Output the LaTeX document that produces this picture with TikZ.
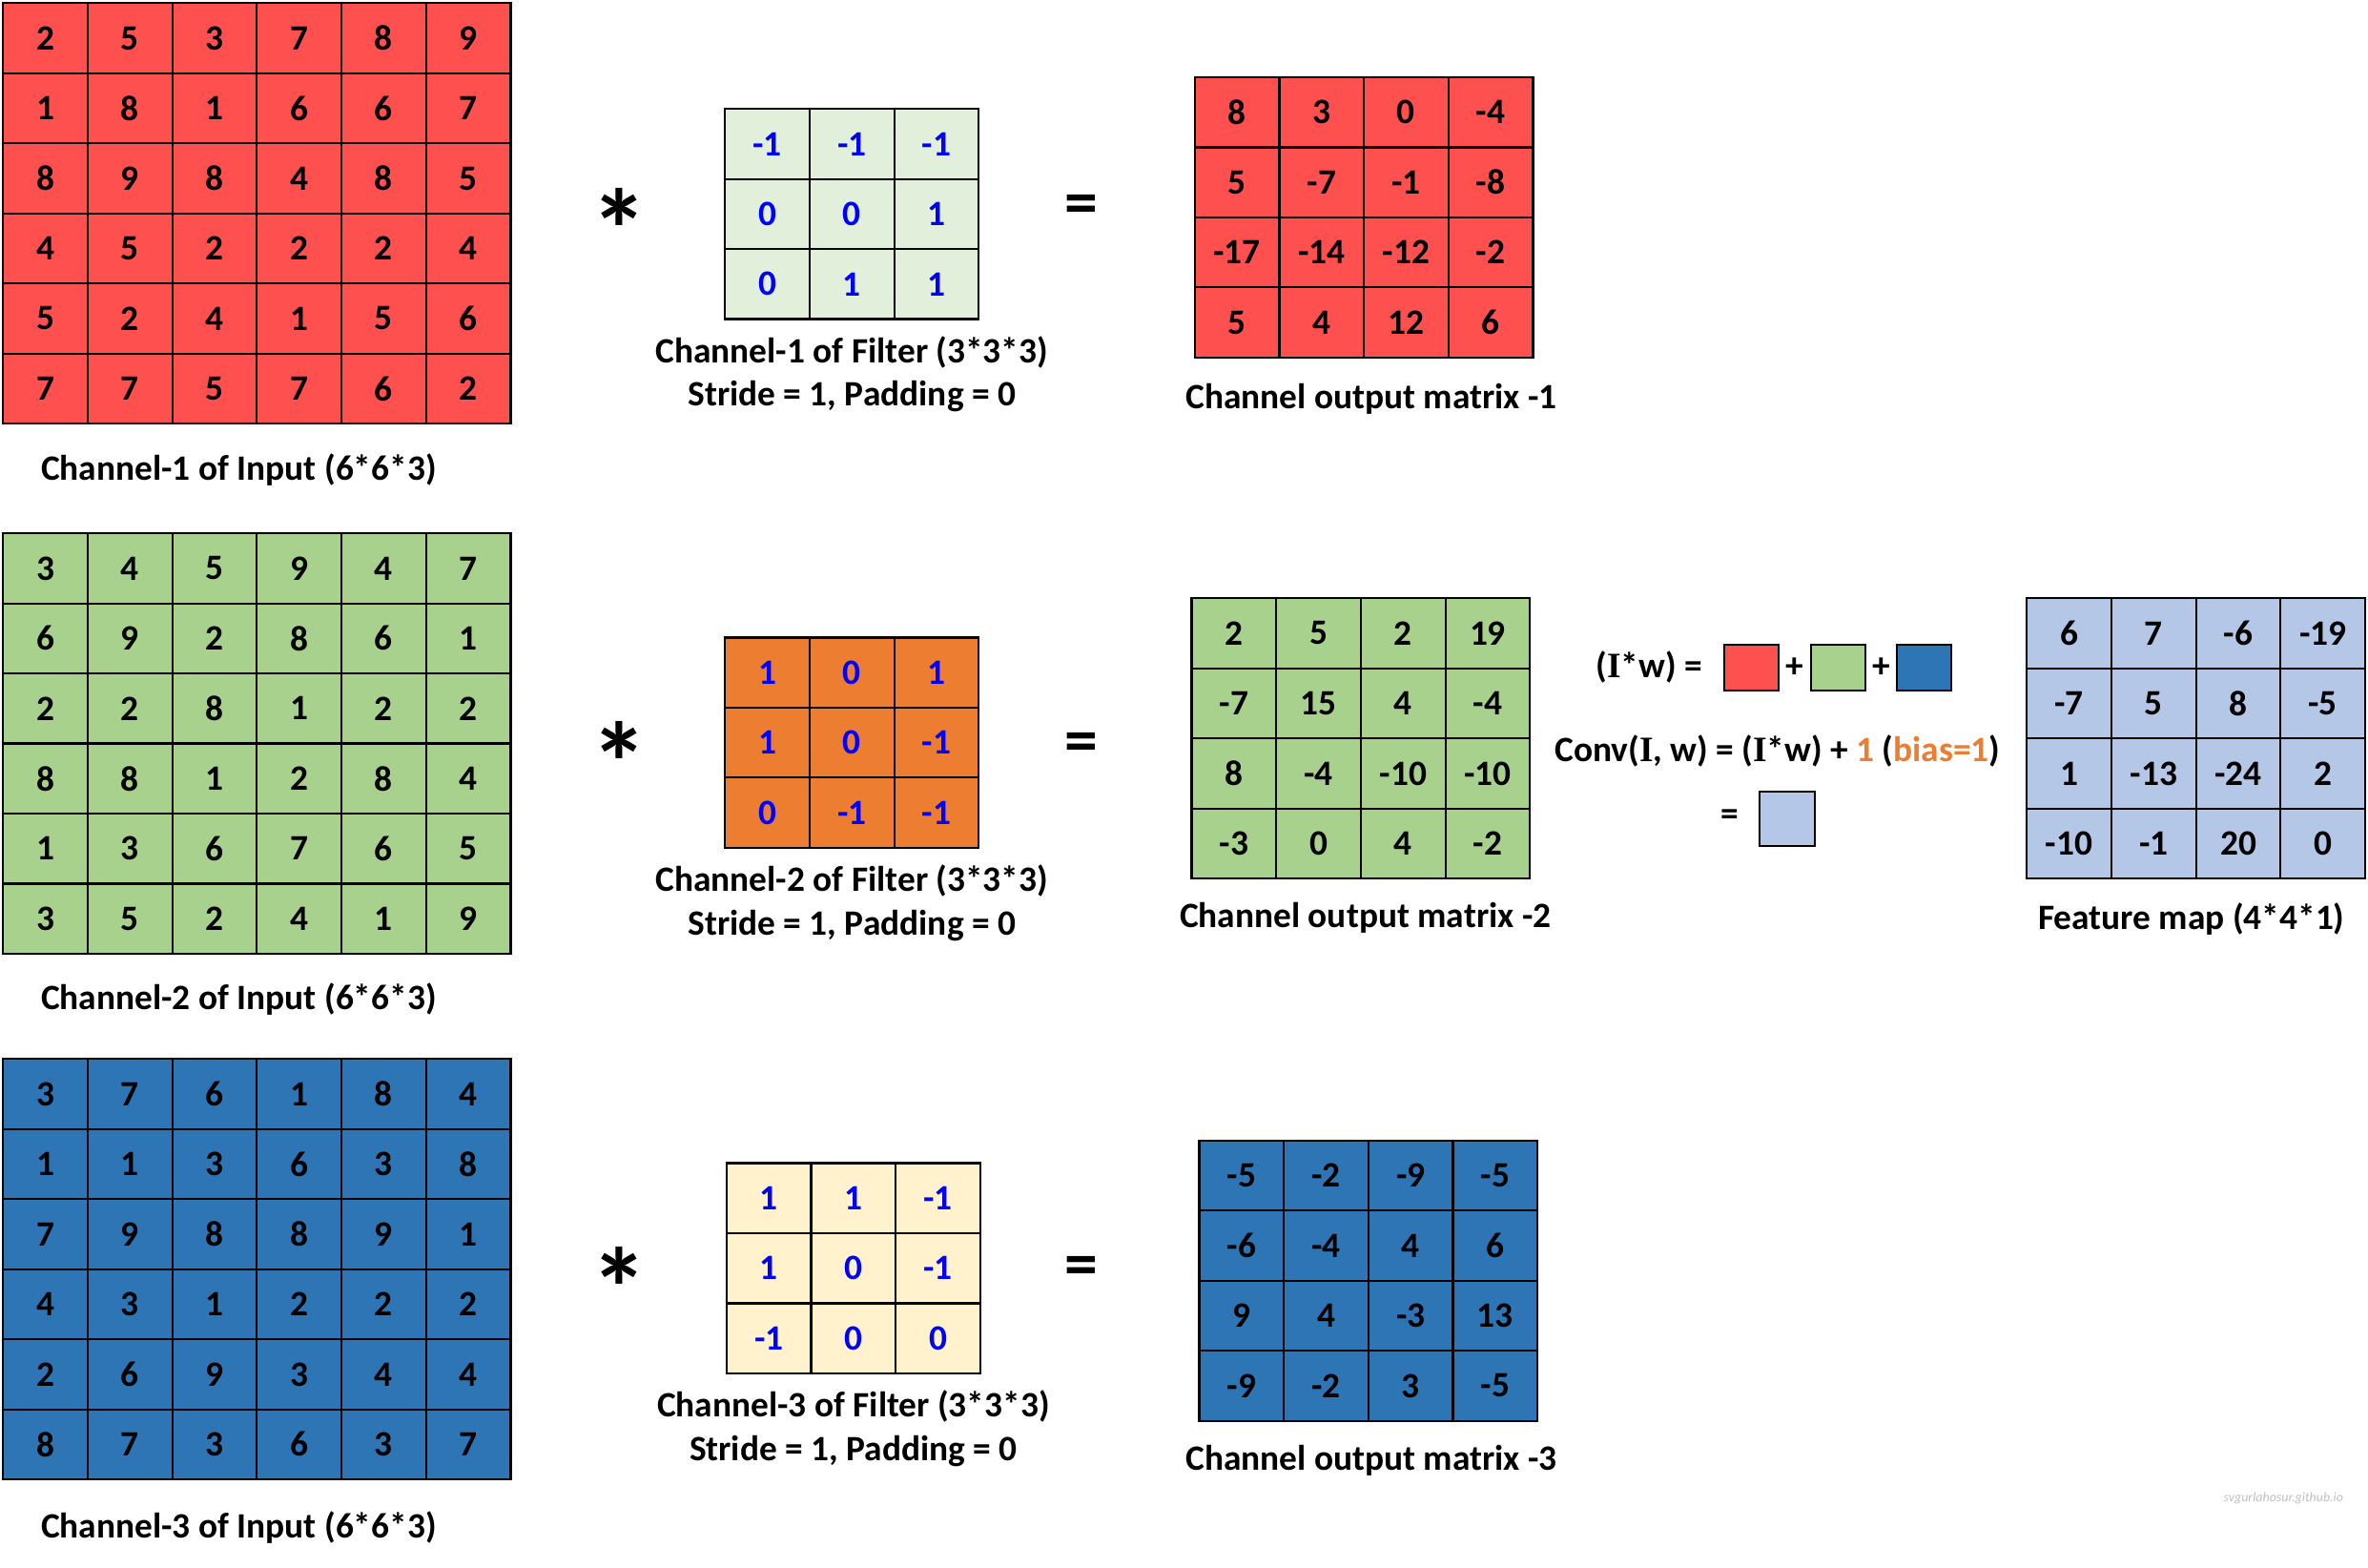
\documentclass[tikz,border=0pt]{standalone}
\usepackage{fontspec}
\setmainfont{Carlito}
\newfontfamily\serifface{Liberation Serif}
\usetikzlibrary{matrix,positioning}

\definecolor{inred}{HTML}{FF5050}
\definecolor{ingreen}{HTML}{A9D18E}
\definecolor{inblue}{HTML}{2E75B6}
\definecolor{kgreen}{HTML}{E2EFDA}
\definecolor{korange}{HTML}{ED7D31}
\definecolor{kcream}{HTML}{FFF2CC}
\definecolor{mapblue}{HTML}{B4C7E7}
\definecolor{wblue}{HTML}{0000FF}
\definecolor{biasorange}{HTML}{ED7D31}
\definecolor{markgray}{HTML}{C0C0C0}

\newcommand{\capI}{{\serifface I}}

\begin{document}
\begin{tikzpicture}[
  x=0.5pt, y=-0.5pt,
  font=\bfseries\fontsize{11.8}{14.5}\selectfont,
  cell/.style={draw, line width=.7pt, minimum width=28pt, minimum height=23.2pt,
               inner sep=0pt, outer sep=0pt, anchor=center},
  grid/.style={matrix of nodes, anchor=north west, inner sep=0pt,
               column sep=-.7pt, row sep=-.7pt, nodes={cell, fill=#1}},
  kernel/.style={grid=#1, nodes={text=wblue}},
  lab/.style={align=center},
  star/.style={font=\bfseries\fontsize{38}{38}\selectfont, inner sep=0pt},
  eq/.style={font=\bfseries\fontsize{22}{22}\selectfont, inner sep=0pt},
  sq/.style={draw, line width=.6pt, inner sep=0pt},
]
\useasboundingbox (0,0) rectangle (1568,1038);

% inputs
\matrix[grid=inred] (in1) at (1,1) {
  2 & 5 & 3 & 7 & 8 & 9 \\
  1 & 8 & 1 & 6 & 6 & 7 \\
  8 & 9 & 8 & 4 & 8 & 5 \\
  4 & 5 & 2 & 2 & 2 & 4 \\
  5 & 2 & 4 & 1 & 5 & 6 \\
  7 & 7 & 5 & 7 & 6 & 2 \\
};
\matrix[grid=ingreen] (in2) at (1,352) {
  3 & 4 & 5 & 9 & 4 & 7 \\
  6 & 9 & 2 & 8 & 6 & 1 \\
  2 & 2 & 8 & 1 & 2 & 2 \\
  8 & 8 & 1 & 2 & 8 & 4 \\
  1 & 3 & 6 & 7 & 6 & 5 \\
  3 & 5 & 2 & 4 & 1 & 9 \\
};
\matrix[grid=inblue] (in3) at (1,700) {
  3 & 7 & 6 & 1 & 8 & 4 \\
  1 & 1 & 3 & 6 & 3 & 8 \\
  7 & 9 & 8 & 8 & 9 & 1 \\
  4 & 3 & 1 & 2 & 2 & 2 \\
  2 & 6 & 9 & 3 & 4 & 4 \\
  8 & 7 & 3 & 6 & 3 & 7 \\
};
\node[below=6pt of in1, xshift=-6pt] (in1lab) {Channel-1 of Input (6*6*3)};
\node[below=5.5pt of in2, xshift=-6pt] (in2lab) {Channel-2 of Input (6*6*3)};
\node[below=6.5pt of in3, xshift=-6pt] (in3lab) {Channel-3 of Input (6*6*3)};

% filters
\matrix[kernel=kgreen] (k1) at (479,71) {
  -1 & -1 & -1 \\
   0 &  0 &  1 \\
   0 &  1 &  1 \\
};
\matrix[kernel=korange] (k2) at (479,421) {
  1 &  0 &  1 \\
  1 &  0 & -1 \\
  0 & -1 & -1 \\
};
\matrix[kernel=kcream] (k3) at (480,769) {
   1 & 1 & -1 \\
   1 & 0 & -1 \\
  -1 & 0 &  0 \\
};
\node[lab, below=1.5pt of k1] (k1lab) {Channel-1 of Filter (3*3*3)\\Stride = 1, Padding = 0};
\node[lab, below=1.5pt of k2] (k2lab) {Channel-2 of Filter (3*3*3)\\Stride = 1, Padding = 0};
\node[lab, below=1.5pt of k3] (k3lab) {Channel-3 of Filter (3*3*3)\\Stride = 1, Padding = 0};

\node[star] (ast1) at (410,152) {*};
\node[star] (ast2) at (410,505) {*};
\node[star] (ast3) at (410,853) {*};
\node[eq] (eq1) at (716,139) {=};
\node[eq] (eq2) at (716,495) {=};
\node[eq] (eq3) at (716,842) {=};

% channel outputs
\matrix[grid=inred] (out1) at (790,50) {
    8 &   3 &   0 & -4 \\
    5 &  -7 &  -1 & -8 \\
  -17 & -14 & -12 & -2 \\
    5 &   4 &  12 &  6 \\
};
\matrix[grid=ingreen] (out2) at (788,395) {
   2 &  5 &   2 &  19 \\
  -7 & 15 &   4 &  -4 \\
   8 & -4 & -10 & -10 \\
  -3 &  0 &   4 &  -2 \\
};
\matrix[grid=inblue] (out3) at (793,754) {
  -5 & -2 & -9 & -5 \\
  -6 & -4 &  4 &  6 \\
   9 &  4 & -3 & 13 \\
  -9 & -2 &  3 & -5 \\
};
\node[below=4.5pt of out1, xshift=2.5pt] (out1lab) {Channel output matrix -1};
\node[below=4pt of out2, xshift=1.5pt] (out2lab) {Channel output matrix -2};
\node[below=4pt of out3, xshift=1pt] (out3lab) {Channel output matrix -3};

% sum and bias
\node (iw) at (1092,442) {(\capI*w) =};
\node[sq, fill=inred, minimum width=18pt, minimum height=15pt] (sqr) at (1160,442) {};
\node[sq, fill=ingreen, minimum width=18pt, minimum height=15pt] (sqg) at (1217,442) {};
\node[sq, fill=inblue, minimum width=18pt, minimum height=15pt] (sqb) at (1274,442) {};
\node (pl1) at (1188.5,442) {+};
\node (pl2) at (1245.5,442) {+};
\node (conv) at (1177,497) {Conv(\capI, w) = (\capI*w) + \textcolor{biasorange}{1} (\textcolor{biasorange}{bias=1})};
\node (eqf) at (1145.5,541) {=};
\node[sq, fill=mapblue, minimum width=18.5pt, minimum height=18pt] (sqf) at (1183.5,542) {};

% feature map
\matrix[grid=mapblue] (fmap) at (1341,395) {
    6 &   7 &  -6 & -19 \\
   -7 &   5 &   8 &  -5 \\
    1 & -13 & -24 &   2 \\
  -10 &  -1 &  20 &   0 \\
};
\node[below=4pt of fmap, xshift=-1.5pt] (fmaplab) {Feature map (4*4*1)};

\node[font=\itshape\fontsize{4.4}{5}\selectfont, text=markgray] (mark) at (1512,992) {svgurlahosur.github.io};
\end{tikzpicture}
\end{document}
